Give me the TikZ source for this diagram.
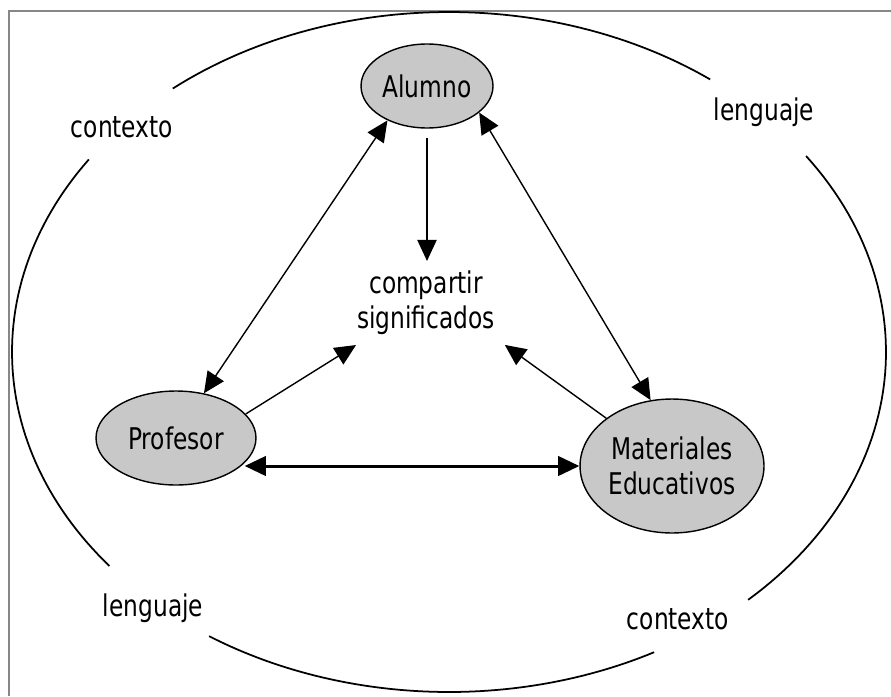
\documentclass[tikz,border=0pt]{standalone}
\usepackage{fontspec}
\setmainfont{DejaVu Sans}[FakeStretch=0.78]
\usetikzlibrary{arrows.meta,shapes.geometric}
\definecolor{NodeGray}{RGB}{200,200,200}
\definecolor{FrameGray}{RGB}{135,135,135}

\begin{document}
\begin{tikzpicture}[x=0.02cm,y=-0.02cm,
    every node/.style={font=\fontsize{17}{20}\selectfont},
    actor/.style={ellipse,draw,line width=0.8pt,fill=NodeGray,inner sep=0pt,align=center},
    arr/.style={-{Triangle[length=12pt,width=11pt]},line width=0.8pt},
    biarr/.style={{Triangle[length=12pt,width=11pt]}-{Triangle[length=12pt,width=11pt]},line width=0.8pt},
    rim/.style={line width=1pt,domain=#1,samples=60}]
      \useasboundingbox (0,0) rectangle (891,696);
      \draw[FrameGray,line width=1.5pt] (9,696) -- (9,11) -- (891,11);
      % outer ellipse, cut where the words sit
      \draw[rim=53.3:129.2] plot ({449+437*cos(\x)},{352-340*sin(\x)});
      \draw[rim=145.5:219] plot ({449+437*cos(\x)},{352-340*sin(\x)});
      \draw[rim=236.7:298] plot ({449+437*cos(\x)},{352-340*sin(\x)});
      \draw[rim=-46.8:35.2] plot ({449+437*cos(\x)},{352-340*sin(\x)});
      \node (ctxa) at (122,127) {contexto};
      \node (lenga) at (764,112) {lenguaje};
      \node (lengb) at (153,608) {lenguaje};
      \node (ctxb) at (678,619) {contexto};
      % the three poles
      \node[actor,minimum width=2.64cm,minimum height=1.68cm] (alumno) at (427,86) {Alumno};
      \node[actor,minimum width=3.2cm,minimum height=1.88cm] (profesor) at (176,438) {Profesor};
      \node[actor,minimum width=3.68cm,minimum height=2.68cm] (mat) at (672,466) {Materiales\\Educativos};
      \node[align=center,inner sep=5.5pt] (shared) at (426,303) {compartir\\significados};
      \draw[arr,shorten <=0.18cm] (alumno.south) -- (alumno.south |- shared.north);
      \draw[biarr] (alumno.221) -- (profesor.58);
      \draw[biarr] (alumno.-27) -- (mat.108);
      \draw[arr] (profesor.19) -- (shared.211);
      \draw[arr] (mat.144) -- (shared.-28);
      \draw[biarr,line width=1.7pt] (mat.west -| profesor.-20) -- (mat.west);
    \end{tikzpicture}
\end{document}
